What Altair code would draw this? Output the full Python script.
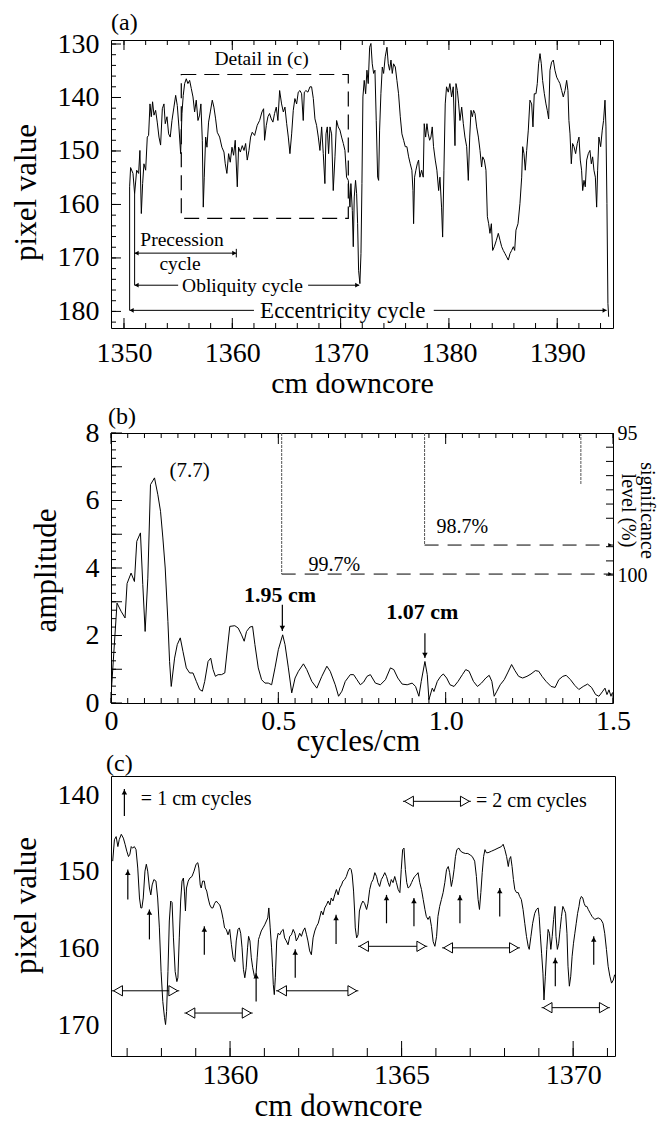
import altair as alt
import pandas as pd

FONT = "Liberation Serif"
W_A, H_A = 502, 288
W_B, H_B = 502, 270
W_C, H_C = 504, 280
SPACING = -6
A_BOTTOM_EXTENT = 81

# ---------------- panel (a): pixel value downcore ----------------
A_DEPTH = [
    1350.52, 1350.61, 1350.83, 1350.98, 1351.17, 1351.35, 1351.47, 1351.60, 1351.72, 1351.84,
    1352.00, 1352.15, 1352.27, 1352.40, 1352.52, 1352.64, 1352.77, 1352.92, 1353.07, 1353.23,
    1353.38, 1353.54, 1353.69, 1353.81, 1353.97, 1354.12, 1354.27, 1354.43, 1354.61, 1354.77,
    1354.92, 1355.07, 1355.23, 1355.35, 1355.47, 1355.60, 1355.75, 1355.90, 1356.06, 1356.21,
    1356.37, 1356.52, 1356.67, 1356.83, 1356.98, 1357.10, 1357.23, 1357.32, 1357.41, 1357.54,
    1357.66, 1357.81, 1357.97, 1358.15, 1358.30, 1358.46, 1358.61, 1358.83, 1359.04, 1359.23,
    1359.35, 1359.50, 1359.66, 1359.81, 1359.97, 1360.12, 1360.27, 1360.46, 1360.58, 1360.74,
    1360.92, 1361.08, 1361.23, 1361.38, 1361.54, 1361.69, 1361.84, 1362.06, 1362.30, 1362.52,
    1362.74, 1362.89, 1362.98, 1363.14, 1363.29, 1363.44, 1363.60, 1363.75, 1363.90, 1364.06,
    1364.21, 1364.37,
    1364.55, 1364.71, 1364.86, 1365.02, 1365.17, 1365.32, 1365.48, 1365.63, 1365.78, 1365.94,
    1366.09, 1366.25, 1366.40, 1366.55, 1366.65, 1366.80, 1366.98, 1367.17, 1367.32, 1367.48,
    1367.63, 1367.78, 1367.94, 1368.09, 1368.25, 1368.40, 1368.55, 1368.65, 1368.77, 1368.89,
    1369.02, 1369.17, 1369.32, 1369.48, 1369.63, 1369.78, 1369.94, 1370.09, 1370.25, 1370.40,
    1370.55, 1370.71, 1370.86, 1370.95, 1371.08, 1371.17, 1371.26, 1371.38, 1371.48, 1371.57,
    1371.66, 1371.78, 1371.88, 1371.97, 1372.06, 1372.18, 1372.31, 1372.43, 1372.55, 1372.68,
    1372.80, 1372.92, 1373.05, 1373.17, 1373.29, 1373.42, 1373.51, 1373.60, 1373.72, 1373.85,
    1373.97, 1374.12, 1374.28, 1374.40, 1374.52, 1374.65, 1374.77, 1374.89, 1375.05, 1375.20,
    1375.35, 1375.51, 1375.66, 1375.82, 1375.97, 1376.12, 1376.28, 1376.43, 1376.58, 1376.68,
    1376.74, 1376.83, 1376.95, 1377.08, 1377.20, 1377.32, 1377.48, 1377.63, 1377.72, 1377.85,
    1377.97, 1378.09, 1378.22, 1378.34, 1378.46, 1378.58, 1378.74, 1378.89, 1379.05, 1379.17,
    1379.32, 1379.42, 1379.54, 1379.66, 1379.78, 1379.94, 1380.09, 1380.25, 1380.40,
    1380.56, 1380.65, 1380.78, 1380.90, 1381.02, 1381.18, 1381.33, 1381.48, 1381.64, 1381.79,
    1381.92, 1382.04, 1382.16, 1382.28, 1382.41, 1382.56, 1382.72, 1382.87, 1383.02, 1383.12,
    1383.27, 1383.42, 1383.55, 1383.67, 1383.79, 1383.92, 1384.04, 1384.19, 1384.38, 1384.56,
    1384.72, 1384.87, 1385.02, 1385.18, 1385.33, 1385.48, 1385.64, 1385.79, 1385.95, 1386.07,
    1386.19, 1386.38, 1386.56, 1386.72, 1386.81, 1386.93, 1387.05, 1387.18, 1387.33, 1387.48,
    1387.64, 1387.76, 1387.88, 1388.04, 1388.16, 1388.28, 1388.41, 1388.53, 1388.65, 1388.81,
    1388.96, 1389.08, 1389.21, 1389.33, 1389.48, 1389.64, 1389.79, 1389.95, 1390.10, 1390.25,
    1390.41, 1390.56, 1390.72, 1390.87, 1390.99, 1391.08, 1391.18, 1391.30, 1391.42, 1391.55,
    1391.70, 1391.85, 1392.01, 1392.13, 1392.25, 1392.35, 1392.47, 1392.59, 1392.72, 1392.87,
    1393.02, 1393.15, 1393.27, 1393.39, 1393.52, 1393.64, 1393.73, 1393.85, 1394.01, 1394.16,
    1394.28, 1394.41, 1394.50, 1394.59, 1394.68, 1394.75,
]
A_VALUE = [
    156.7, 153.1, 154.2, 158.0, 153.6, 154.2, 149.9, 161.7, 156.1, 152.4,
    153.6, 147.4, 147.1, 141.2, 143.6, 140.8, 143.3, 142.4, 144.6, 147.4,
    148.9, 142.1, 141.2, 144.9, 143.6, 146.8, 147.4, 144.3, 141.8, 139.6,
    141.5, 145.5, 150.5, 143.0, 139.6, 137.4, 136.5, 137.4, 136.8, 138.3,
    139.9, 142.7, 140.5, 144.3, 143.3, 141.2, 148.0, 160.5, 154.9, 147.4,
    149.3, 144.6, 142.7, 140.5, 141.8, 144.0, 146.5, 147.4, 149.3, 150.2,
    152.4, 154.2, 150.5, 152.1, 149.3, 150.8, 148.0, 156.7, 149.3, 150.2,
    149.0, 149.9, 148.6, 151.7, 149.9, 147.4, 146.5, 147.1, 145.2, 144.3,
    142.7, 142.1, 148.0, 145.2, 143.6, 143.0, 144.0, 144.6, 143.0, 141.8,
    144.3, 138.7,
    141.2, 142.7, 141.8, 144.9, 147.4, 150.5, 146.8, 142.4, 140.2, 141.2,
    139.0, 138.7, 139.3, 144.3, 139.0, 138.7, 139.0, 138.0, 138.0, 140.2,
    144.0, 145.2, 147.4, 149.9, 145.5, 150.5, 156.1, 146.8, 145.5, 150.5,
    145.5, 146.8, 157.4, 151.1, 144.3, 145.5, 146.1, 147.4, 148.6, 149.9,
    154.9, 155.5, 160.5, 156.1, 161.1, 167.9, 158.6, 155.5, 158.0, 163.6,
    172.3, 174.8, 169.2, 156.1, 139.9, 136.8, 139.3, 134.9, 137.4, 130.6,
    129.9, 133.7, 135.5, 134.9, 144.3, 154.9, 155.5, 146.1, 139.3, 134.3,
    135.5, 132.4, 130.6, 133.7, 134.9, 133.0, 135.5, 133.7, 134.3, 136.8,
    139.3, 143.6, 146.8, 148.0, 149.2, 149.2, 151.1, 152.4, 153.6, 157.4,
    163.6, 154.9, 153.6, 152.4, 151.7, 154.9, 153.6, 154.9, 144.9, 147.4,
    144.9, 146.8, 148.0, 147.4, 145.5, 149.2, 151.7, 153.6, 157.4, 154.9,
    160.5, 166.1, 153.6, 141.2, 138.0, 139.0, 137.4, 139.9, 138.0,
    149.0, 137.4, 138.7, 141.2, 144.3, 141.8, 144.9, 147.4, 149.2, 155.5,
    147.4, 142.4, 143.6, 142.4, 143.0, 145.5, 147.4, 149.9, 153.0, 151.1,
    151.7, 153.6, 162.3, 163.6, 165.4, 163.6, 168.6, 167.9, 166.7, 165.4,
    166.7, 167.9, 168.6, 169.2, 169.8, 170.4, 169.2, 168.6, 167.9, 168.6,
    164.8, 163.6, 159.8, 154.9, 149.2, 150.5, 153.6, 149.9, 146.1, 140.5,
    141.2, 145.5, 139.3, 139.3, 137.4, 133.7, 131.8, 133.7, 136.8, 139.3,
    141.2, 142.4, 144.0, 134.9, 133.4, 133.0, 134.9, 136.2, 136.8, 137.4,
    138.7, 139.9, 138.7, 136.8, 138.7, 144.3, 146.8, 152.4, 148.6, 149.2,
    150.5, 148.6, 147.4, 151.7, 153.6, 157.4, 155.5, 156.7, 151.7, 150.5,
    149.9, 152.4, 151.1, 153.6, 154.9, 160.5, 153.6, 147.4, 149.2, 146.1,
    144.3, 140.5, 145.5, 159.8, 178.5, 181.0,
]
A_X_LABELS = [1350, 1360, 1370, 1380, 1390]
A_Y_LABELS = [130, 140, 150, 160, 170, 180]
A_X_MINOR = list(range(1350, 1395, 2))
A_Y_MINOR = list(range(130, 183, 2))

# dashed "Detail in (c)" box
A_BOX_X = [1355.29]
A_BOX_X2 = [1370.71]
A_BOX_Y = [135.7]
A_BOX_Y2 = [162.6]

# cycle arrows (precession, obliquity, eccentricity)
A_CYCLE_START = [1350.98, 1350.98, 1350.52]
A_CYCLE_END = [1360.37, 1371.72, 1394.56]
A_CYCLE_LEVEL = [169.1, 175.1, 179.8]
# arrow shafts, broken where the labels sit
A_SEG_X1 = [1350.98, 1350.98, 1367.0, 1350.52, 1378.6]
A_SEG_X2 = [1360.37, 1355.0, 1371.72, 1362.0, 1394.56]
A_SEG_Y = [169.1, 175.1, 175.1, 179.8, 179.8]
# vertical extension lines
A_EXT_X = [1350.52, 1350.98, 1360.37]
A_EXT_Y1 = [156.7, 158.0, 168.3]
A_EXT_Y2 = [179.8, 175.1, 169.9]

A_TEXT = ["Detail in (c)", "Precession", "cycle", "Obliquity cycle"]
A_TEXT_X = [1362.7, 1355.36, 1355.17, 1360.94]
A_TEXT_Y = [132.8, 166.6, 171.1, 175.2]
A_BIG_TEXT = ["Eccentricity cycle"]
A_BIG_TEXT_X = [1370.2]
A_BIG_TEXT_Y = [179.9]

# ---------------- panel (b): amplitude spectrum ----------------
B_FREQ = [
    0.002, 0.018, 0.030, 0.042, 0.048, 0.060, 0.070, 0.077, 0.088, 0.095,
    0.102, 0.110, 0.118, 0.130, 0.140, 0.148, 0.155, 0.162, 0.170, 0.175,
    0.180, 0.190, 0.198, 0.207, 0.215, 0.225, 0.235, 0.245, 0.255, 0.265,
    0.273, 0.280, 0.290, 0.298, 0.305, 0.312, 0.320, 0.330, 0.340, 0.348,
    0.355, 0.370, 0.380, 0.390, 0.398, 0.405, 0.415, 0.423, 0.430, 0.440,
    0.450, 0.460, 0.470, 0.480, 0.490, 0.500, 0.513, 0.520, 0.530, 0.540,
    0.550, 0.560, 0.575, 0.585, 0.600, 0.615, 0.630, 0.645, 0.655, 0.670,
    0.680, 0.690, 0.700, 0.715, 0.725, 0.735, 0.745, 0.755, 0.765, 0.775,
    0.790, 0.805, 0.820, 0.835, 0.845, 0.857, 0.870, 0.885, 0.900, 0.910,
    0.920, 0.927, 0.938, 0.945, 0.950, 0.960, 0.965, 0.975, 0.985, 0.993,
    1.003, 1.013, 1.025, 1.037, 1.050, 1.060, 1.070, 1.083, 1.095, 1.107,
    1.120, 1.130, 1.138, 1.145, 1.153, 1.163, 1.175, 1.185, 1.197, 1.207,
    1.218, 1.230, 1.243, 1.255, 1.268, 1.278, 1.288, 1.300, 1.315, 1.327,
    1.338, 1.350, 1.360, 1.373, 1.386, 1.398, 1.411, 1.424, 1.436, 1.448,
    1.458, 1.468, 1.476, 1.482, 1.488, 1.494, 1.498,
]
B_AMP = [
    0.50, 2.96, 2.72, 2.52, 3.54, 3.85, 3.60, 4.79, 5.04, 3.51,
    2.12, 3.70, 6.47, 6.67, 6.17, 5.68, 4.89, 4.00, 2.42, 1.23,
    0.49, 1.33, 1.73, 1.93, 1.53, 1.04, 0.89, 0.89, 0.64, 0.40,
    0.35, 0.64, 1.23, 1.33, 0.99, 0.79, 0.84, 0.84, 0.89, 1.63,
    2.27, 2.29, 2.22, 2.02, 1.83, 2.12, 2.25, 2.27, 1.73, 1.04,
    0.69, 0.59, 0.59, 0.54, 1.04, 1.58, 2.02, 1.73, 1.04, 0.30,
    0.74, 0.94, 1.16, 0.99, 0.64, 0.44, 0.79, 1.09, 0.94, 0.54,
    0.20, 0.35, 0.64, 0.84, 0.84, 0.69, 0.54, 0.62, 0.79, 0.84,
    0.59, 0.54, 0.69, 1.04, 0.99, 0.74, 0.56, 0.54, 0.59, 0.49,
    0.20, 0.64, 1.23, 0.84, 0.10, 0.44, 0.34, 0.64, 0.79, 0.86,
    0.74, 0.54, 0.49, 0.64, 0.84, 0.99, 0.94, 0.64, 0.49, 0.59,
    0.74, 0.82, 0.64, 0.20, 0.35, 0.54, 0.69, 0.89, 1.14, 0.96,
    0.79, 0.74, 0.79, 0.86, 0.96, 0.94, 0.79, 0.64, 0.49, 0.46,
    0.69, 0.79, 0.82, 0.69, 0.52, 0.40, 0.49, 0.56, 0.46, 0.25,
    0.20, 0.33, 0.44, 0.25, 0.39, 0.20, 0.30,
]
B_X_LABELS = [0, 0.5, 1.0, 1.5]
B_Y_LABELS = [0, 2, 4, 6, 8]
B_X_MINOR = [i * 0.05 for i in range(31)]
B_X_MAJOR = [0, 0.5, 1.0, 1.5]
B_Y_MINOR = [i * 0.25 for i in range(33)]
B_Y_MAJOR = [0, 1, 2, 3, 4, 5, 6, 7, 8]

# significance levels
B_SIG_X = [0.510, 0.937]
B_SIG_LEVEL = [3.82, 4.68]
B_SIG_TOP = [8, 8]
B_SIG_END = [1.5, 1.5]
B_SIG_TEXT = ["99.7%", "98.7%"]
B_SIG_TEXT_X = [0.667, 1.05]
B_SIG_TEXT_Y = [4.09, 5.21]
B_SIG3_X = [1.404]
B_SIG3_Y1 = [8.0]
B_SIG3_Y2 = [6.46]
B_SIG_AXIS_LABELS = [95, 100]
B_SIG_TICKS = [95.5, 96, 96.5, 97, 97.5, 98, 99, 99.5, 100]

# peak labels
B_PEAK_TEXT = ["1.95 cm", "1.07 cm"]
B_PEAK_TEXT_X = [0.505, 0.930]
B_PEAK_TEXT_Y = [3.21, 2.70]
B_ARROW_X = [0.512, 0.938]
B_ARROW_TAIL = [2.91, 2.07]
B_ARROW_TIP = [2.13, 1.33]
B_NOTE = ["(7.7)"]
B_NOTE_X = [0.235]
B_NOTE_Y = [6.87]

# ---------------- panel (c): detail ----------------
C_DEPTH = [
    1356.58, 1356.63, 1356.68, 1356.73, 1356.77, 1356.83, 1356.89, 1356.94, 1356.99, 1357.04,
    1357.08, 1357.12, 1357.16, 1357.21, 1357.26, 1357.31, 1357.36, 1357.40, 1357.43, 1357.47,
    1357.52, 1357.56, 1357.60, 1357.65, 1357.69, 1357.73, 1357.78, 1357.84, 1357.89, 1357.94,
    1357.99, 1358.04, 1358.09, 1358.12, 1358.15, 1358.19, 1358.23, 1358.27, 1358.31, 1358.35,
    1358.40, 1358.45, 1358.48, 1358.52, 1358.56, 1358.60, 1358.64, 1358.67, 1358.70, 1358.73,
    1358.78, 1358.83, 1358.89, 1358.95, 1359.01, 1359.06, 1359.09, 1359.13, 1359.16, 1359.20,
    1359.25, 1359.28, 1359.32, 1359.36, 1359.41, 1359.46, 1359.50, 1359.55, 1359.60, 1359.65,
    1359.70, 1359.75, 1359.80, 1359.84, 1359.89, 1359.94, 1359.99, 1360.04, 1360.09, 1360.14,
    1360.18, 1360.23, 1360.27, 1360.31, 1360.35, 1360.39, 1360.43, 1360.47, 1360.51, 1360.54,
    1360.58, 1360.62, 1360.66, 1360.71, 1360.75, 1360.79, 1360.83, 1360.86, 1360.91, 1360.96,
    1361.01, 1361.06, 1361.10, 1361.13, 1361.17, 1361.21, 1361.24, 1361.26, 1361.29, 1361.32,
    1361.36, 1361.40, 1361.45, 1361.50, 1361.55, 1361.59, 1361.64, 1361.69, 1361.74, 1361.79,
    1361.84, 1361.89, 1361.93, 1361.98, 1362.03, 1362.08, 1362.13, 1362.18, 1362.23, 1362.27,
    1362.32, 1362.37, 1362.42, 1362.47, 1362.52, 1362.57, 1362.61, 1362.66, 1362.71, 1362.76,
    1362.81, 1362.86, 1362.91, 1362.95, 1363.00, 1363.05, 1363.10, 1363.15, 1363.20, 1363.25,
    1363.29, 1363.34, 1363.39, 1363.44, 1363.49, 1363.53, 1363.56, 1363.60, 1363.63, 1363.65,
    1363.69, 1363.73, 1363.77, 1363.82, 1363.87, 1363.92,
    1363.98, 1364.02, 1364.07, 1364.12, 1364.17, 1364.22, 1364.27, 1364.31, 1364.36, 1364.41,
    1364.46, 1364.51, 1364.56, 1364.61, 1364.65, 1364.70, 1364.75, 1364.80, 1364.85, 1364.90,
    1364.95, 1364.99, 1365.03, 1365.07, 1365.11, 1365.15, 1365.19, 1365.24, 1365.29, 1365.33,
    1365.38, 1365.43, 1365.48, 1365.53, 1365.58, 1365.63, 1365.68, 1365.72, 1365.77, 1365.82,
    1365.87, 1365.92, 1365.97, 1366.02, 1366.06, 1366.11, 1366.16, 1366.21, 1366.26, 1366.31,
    1366.36, 1366.40, 1366.45, 1366.49, 1366.53, 1366.57, 1366.61, 1366.67, 1366.72, 1366.79,
    1366.86, 1366.93, 1367.00, 1367.06, 1367.13, 1367.18, 1367.23, 1367.27, 1367.31, 1367.35,
    1367.39, 1367.43, 1367.47, 1367.52, 1367.62, 1367.72, 1367.81, 1367.91, 1367.96, 1368.01,
    1368.06, 1368.11, 1368.14, 1368.18, 1368.22, 1368.26, 1368.30, 1368.35, 1368.40, 1368.44,
    1368.49, 1368.54, 1368.59, 1368.64, 1368.69, 1368.72, 1368.77, 1368.82, 1368.88, 1368.93,
    1368.98, 1369.01, 1369.04, 1369.08, 1369.12, 1369.15, 1369.19, 1369.23, 1369.27, 1369.31,
    1369.35, 1369.39, 1369.43, 1369.47, 1369.50, 1369.54, 1369.58, 1369.62, 1369.66, 1369.70,
    1369.74, 1369.78, 1369.82, 1369.85, 1369.89, 1369.93, 1369.97, 1370.01, 1370.05, 1370.09,
    1370.13, 1370.17, 1370.20, 1370.24, 1370.28, 1370.32, 1370.36, 1370.40, 1370.44, 1370.50,
    1370.55, 1370.63, 1370.73, 1370.81, 1370.87, 1370.92, 1370.97, 1371.02, 1371.07, 1371.12,
    1371.17, 1371.21,
]
C_VALUE = [
    148.6, 145.8, 145.4, 146.7, 145.8, 145.1, 145.6, 146.4, 147.3, 148.0,
    147.7, 146.7, 146.9, 146.7, 147.1, 149.5, 153.4, 154.7, 154.7, 153.4,
    149.9, 149.0, 149.9, 152.1, 153.0, 151.7, 151.0, 151.2, 153.4, 157.3,
    163.0, 166.9, 169.0, 169.9, 168.2, 163.0, 156.4, 153.8, 154.0, 158.6,
    163.0, 164.3, 163.8, 158.6, 153.8, 151.2, 150.8, 152.5, 155.1, 152.1,
    151.2, 150.8, 150.6, 149.9, 149.0, 148.8, 149.5, 151.7, 152.1, 151.2,
    151.2, 152.1, 152.5, 153.4, 154.3, 154.7, 154.7, 154.1, 153.8, 154.1,
    154.3, 155.1, 156.2, 157.3, 157.5, 158.2, 157.5, 159.5, 161.2, 161.7,
    159.0, 157.5, 157.3, 158.0, 159.9, 162.7, 163.8, 162.5, 159.9, 158.4,
    159.0, 161.2, 162.5, 163.6, 163.8, 161.2, 158.8, 158.4, 157.7, 157.3,
    156.9, 156.4, 156.0, 154.7, 157.3, 159.9, 162.5, 164.7, 166.0, 163.8,
    159.0, 158.0, 158.2, 157.7, 157.5, 158.6, 159.0, 159.5, 158.4, 158.2,
    157.5, 158.0, 159.0, 158.6, 158.0, 158.4, 157.7, 157.3, 158.2, 159.0,
    160.3, 160.8, 158.6, 157.7, 157.1, 156.7, 156.0, 155.1, 155.6, 154.7,
    154.3, 153.8, 154.3, 153.4, 153.8, 153.0, 152.3, 153.0, 152.1, 151.7,
    151.2, 151.0, 150.6, 149.9, 149.5, 149.7, 150.4, 152.5, 155.1, 157.3,
    158.6, 158.2, 155.1, 154.3, 153.8, 154.1,
    154.9, 154.1, 152.3, 151.4, 151.0, 150.1, 150.6, 151.4, 151.9, 151.0,
    150.6, 150.1, 150.6, 151.4, 151.9, 151.0, 151.4, 150.6, 151.4, 152.3,
    152.7, 149.7, 147.1, 146.9, 149.7, 151.4, 152.1, 151.9, 151.4, 151.0,
    150.6, 150.4, 150.1, 151.4, 152.3, 153.6, 154.9, 155.8, 156.2, 155.8,
    157.1, 159.1, 159.7, 158.4, 155.8, 154.5, 153.6, 152.7, 151.4, 149.7,
    149.3, 150.1, 151.9, 151.0, 149.7, 148.0, 147.1, 146.9, 147.3, 147.5,
    147.6, 147.6, 147.8, 148.0, 148.6, 150.6, 153.6, 154.9, 152.7, 150.1,
    148.0, 147.1, 147.5, 147.5, 147.3, 147.1, 146.9, 146.7, 146.4, 147.1,
    148.0, 149.3, 148.4, 148.0, 149.3, 151.0, 152.3, 152.7, 152.7, 153.2,
    153.6, 154.9, 156.7, 158.4, 159.7, 160.1, 158.4, 156.7, 155.4, 154.9,
    154.7, 155.8, 158.0, 160.6, 163.2, 166.7, 163.6, 160.1, 157.5, 158.0,
    160.1, 158.4, 156.2, 154.5, 158.4, 160.1, 159.3, 157.5, 155.8, 154.5,
    154.9, 155.4, 158.0, 162.3, 164.9, 163.6, 161.0, 159.3, 158.0, 156.7,
    155.4, 154.5, 153.6, 153.2, 153.4, 154.1, 154.5, 154.5, 154.9, 155.4,
    155.8, 156.2, 156.0, 156.2, 156.7, 158.0, 160.1, 162.3, 163.6, 164.5,
    164.1, 163.4,
]
C_X_LABELS = [1360, 1365, 1370]
C_Y_LABELS = [140, 150, 160, 170]
C_X_MINOR = list(range(1357, 1372))
C_X_MAJOR = [1360, 1365, 1370]

# 1 cm cycle arrows
C_UP_X = [1357.02, 1357.65, 1359.25, 1360.76, 1361.90, 1363.09,
          1364.56, 1365.36, 1366.70, 1367.86, 1369.48, 1370.60]
C_UP_TAIL = [153.6, 158.8, 160.8, 166.9, 163.8, 159.4,
             156.7, 157.1, 156.7, 155.8, 164.9, 162.1]
C_UP_HEAD = [149.7, 154.9, 157.1, 163.2, 160.1, 155.6,
             153.0, 153.4, 153.0, 152.1, 161.2, 158.4]
# 2 cm cycle double arrows
C_DA_X1 = [1356.56, 1358.67, 1361.34, 1363.73, 1366.18, 1369.08]
C_DA_X2 = [1358.52, 1360.66, 1363.74, 1365.75, 1368.45, 1371.07]
C_DA_Y = [165.5, 168.4, 165.5, 159.7, 159.9, 167.7]
# legend
C_LEG_UP_X = [1356.92]
C_LEG_UP_TAIL = [142.7]
C_LEG_UP_HEAD = [139.2]
C_LEG_DA_X1 = [1365.04]
C_LEG_DA_X2 = [1367.02]
C_LEG_DA_Y = [140.8]
C_LEG_TEXT = ["= 1 cm cycles", "= 2 cm cycles"]
C_LEG_TEXT_X = [1357.40, 1367.17]
C_LEG_TEXT_Y = [140.5, 140.8]


def df(**cols):
    return pd.DataFrame(cols)


# ================= panel (a) =================
SA_X = alt.Scale(domain=[1348.8, 1395.15], nice=False, zero=False)
SA_Y = alt.Scale(domain=[129.25, 183.1], nice=False, zero=False, reverse=True)
AXA_X = alt.Axis(values=A_X_LABELS, format="d", labelFontSize=28, labelPadding=11,
                 labelFlush=False, title="cm downcore", titleFontSize=30,
                 titleX=241, titleY=55, titleBaseline="middle")
AXA_Y = alt.Axis(values=A_Y_LABELS, format="d", labelFontSize=28, labelPadding=12,
                 title="pixel value", titleFontSize=31, titleX=-85, titleY=152,
                 titleBaseline="middle")


def XA():
    return alt.X("depth:Q", scale=SA_X, axis=AXA_X)


def YA():
    return alt.Y("value:Q", scale=SA_Y, axis=AXA_Y)


a_line = alt.Chart(df(depth=A_DEPTH, value=A_VALUE)).mark_line(
    color="black", strokeWidth=1).encode(x=XA(), y=YA())
a_box = alt.Chart(df(depth=A_BOX_X, depth2=A_BOX_X2, value=A_BOX_Y, value2=A_BOX_Y2)).mark_rect(
    fillOpacity=0, stroke="black", strokeWidth=1.2, strokeDash=[15, 8]).encode(
    x=XA(), x2=alt.X2("depth2"), y=YA(), y2=alt.Y2("value2"))
a_seg = alt.Chart(df(depth=A_SEG_X1, depth2=A_SEG_X2, value=A_SEG_Y)).mark_rule(
    color="black", strokeWidth=1).encode(x=XA(), x2=alt.X2("depth2"), y=YA())
a_ext = alt.Chart(df(depth=A_EXT_X, value=A_EXT_Y1, value2=A_EXT_Y2)).mark_rule(
    color="black", strokeWidth=1).encode(x=XA(), y=YA(), y2=alt.Y2("value2"))
a_head_l = alt.Chart(df(depth=A_CYCLE_START, value=A_CYCLE_LEVEL)).mark_point(
    shape="triangle-left", filled=True, color="black", size=22, opacity=1, xOffset=2).encode(x=XA(), y=YA())
a_head_r = alt.Chart(df(depth=A_CYCLE_END, value=A_CYCLE_LEVEL)).mark_point(
    shape="triangle-right", filled=True, color="black", size=22, opacity=1, xOffset=-2).encode(x=XA(), y=YA())
a_txt = alt.Chart(df(depth=A_TEXT_X, value=A_TEXT_Y, label=A_TEXT)).mark_text(
    font=FONT, fontSize=19.5, color="black").encode(x=XA(), y=YA(), text="label:N")
a_txt_big = alt.Chart(df(depth=A_BIG_TEXT_X, value=A_BIG_TEXT_Y, label=A_BIG_TEXT)).mark_text(
    font=FONT, fontSize=23, color="black").encode(x=XA(), y=YA(), text="label:N")


def xticks(values, xenc, y0, y1):
    return alt.Chart(df(depth=values)).mark_rule(color="black", strokeWidth=1).encode(
        x=xenc, y=alt.value(y0), y2=alt.value(y1))


a_ticks = [
    xticks(A_X_MINOR, XA(), H_A, H_A - 5),
    xticks(A_X_LABELS, XA(), H_A, H_A - 10),
    xticks(A_X_MINOR, XA(), 0, 5),
    xticks(A_X_LABELS, XA(), 0, 10),
    alt.Chart(df(value=A_Y_MINOR)).mark_rule(color="black", strokeWidth=1).encode(
        y=YA(), x=alt.value(0), x2=alt.value(5)),
    alt.Chart(df(value=A_Y_LABELS)).mark_rule(color="black", strokeWidth=1).encode(
        y=YA(), x=alt.value(0), x2=alt.value(10)),
]
a_pad = alt.Chart(df(depth=[1350])).mark_rule(color="white").encode(
    x=alt.value(0), x2=alt.value(2), y=alt.value(H_A + A_BOTTOM_EXTENT))

panel_a = alt.layer(a_line, a_box, a_seg, a_ext, a_head_l, a_head_r, a_txt, a_txt_big,
                    *a_ticks, a_pad).properties(
    width=W_A, height=H_A,
    title=alt.TitleParams("(a)", anchor="start", frame="group", offset=-5, fontSize=24,
                          font=FONT, fontWeight="normal", color="black"))

# ================= panel (b) =================
SB_X = alt.Scale(domain=[0, 1.5], nice=False, zero=False)
SB_Y = alt.Scale(domain=[0, 8], nice=False, zero=False)
SB_SIG = alt.Scale(domain=[95, 104.5], nice=False, zero=False, reverse=True)
AXB_X = alt.Axis(values=B_X_LABELS, labelExpr="datum.value == 0 ? '0' : format(datum.value, '.1f')",
                 labelFontSize=28, labelPadding=4, labelFlush=False, title="cycles/cm",
                 titleFontSize=31, titleX=247, titleY=38, titleBaseline="middle")
AXB_Y = alt.Axis(values=B_Y_LABELS, labelFontSize=28, labelPadding=12, title="amplitude",
                 titleFontSize=31, titleX=-65, titleY=137, titleBaseline="middle")
AXB_SIG = alt.Axis(orient="right", values=B_SIG_AXIS_LABELS, labelFontSize=20, labelPadding=4,
                   title=["significance", "level (%)"], titleFontSize=20, titleAngle=90,
                   titleX=33, titleY=77, titleBaseline="middle", titleLineHeight=19)


def XB(f="freq"):
    return alt.X(f + ":Q", scale=SB_X, axis=AXB_X)


def YB(f="amp"):
    return alt.Y(f + ":Q", scale=SB_Y, axis=AXB_Y)


b_line = alt.Chart(df(freq=B_FREQ, amp=B_AMP)).mark_line(color="black", strokeWidth=1).encode(
    x=XB(), y=YB())
b_sig_v = alt.Chart(df(freq=B_SIG_X, amp=B_SIG_TOP, amp2=B_SIG_LEVEL)).mark_rule(
    color="#555555", strokeWidth=1, strokeDash=[3, 1]).encode(x=XB(), y=YB(), y2=alt.Y2("amp2"))
b_sig3 = alt.Chart(df(freq=B_SIG3_X, amp=B_SIG3_Y1, amp2=B_SIG3_Y2)).mark_rule(
    color="#555555", strokeWidth=1, strokeDash=[3, 1]).encode(x=XB(), y=YB(), y2=alt.Y2("amp2"))
b_sig_h = alt.Chart(df(freq=B_SIG_X, freq2=B_SIG_END, amp=B_SIG_LEVEL)).mark_rule(
    color="black", strokeWidth=1, strokeDash=[14, 9]).encode(x=XB(), x2=alt.X2("freq2"), y=YB())
b_sig_head = alt.Chart(df(freq=B_SIG_END, amp=B_SIG_LEVEL)).mark_point(
    shape="triangle-right", filled=True, color="black", size=16, opacity=1, xOffset=-3).encode(
    x=XB(), y=YB())
b_sig_txt = alt.Chart(df(freq=B_SIG_TEXT_X, amp=B_SIG_TEXT_Y, label=B_SIG_TEXT)).mark_text(
    font=FONT, fontSize=20, color="black").encode(x=XB(), y=YB(), text="label:N")
b_arrow = alt.Chart(df(freq=B_ARROW_X, amp=B_ARROW_TAIL, amp2=B_ARROW_TIP)).mark_rule(
    color="black", strokeWidth=1.2).encode(x=XB(), y=YB(), y2=alt.Y2("amp2"))
b_arrow_head = alt.Chart(df(freq=B_ARROW_X, amp=B_ARROW_TIP)).mark_point(
    shape="triangle-down", filled=True, color="black", size=30, opacity=1, yOffset=-3).encode(
    x=XB(), y=YB())
b_peak_txt = alt.Chart(df(freq=B_PEAK_TEXT_X, amp=B_PEAK_TEXT_Y, label=B_PEAK_TEXT)).mark_text(
    font=FONT, fontSize=22, fontWeight="bold", color="black").encode(x=XB(), y=YB(), text="label:N")
b_note = alt.Chart(df(freq=B_NOTE_X, amp=B_NOTE_Y, label=B_NOTE)).mark_text(
    font=FONT, fontSize=21, color="black").encode(x=XB(), y=YB(), text="label:N")


def bxticks(values, y0, y1):
    return alt.Chart(df(freq=values)).mark_rule(color="black", strokeWidth=1).encode(
        x=XB(), y=alt.value(y0), y2=alt.value(y1))


b_ticks = [
    bxticks(B_X_MINOR, H_B, H_B - 5),
    bxticks(B_X_MAJOR, H_B, H_B - 11),
    bxticks(B_X_MINOR, 0, 5),
    bxticks(B_X_MAJOR, 0, 11),
    alt.Chart(df(amp=B_Y_MINOR)).mark_rule(color="black", strokeWidth=1).encode(
        y=YB(), x=alt.value(0), x2=alt.value(5)),
    alt.Chart(df(amp=B_Y_MAJOR)).mark_rule(color="black", strokeWidth=1).encode(
        y=YB(), x=alt.value(0), x2=alt.value(11)),
]
b_inner = alt.layer(b_line, b_sig_v, b_sig3, b_sig_h, b_sig_head, b_sig_txt, b_arrow,
                    b_arrow_head, b_peak_txt, b_note, *b_ticks)
b_sig_axis = alt.Chart(df(sig=B_SIG_TICKS)).mark_rule(color="black", strokeWidth=1).encode(
    y=alt.Y("sig:Q", scale=SB_SIG, axis=AXB_SIG), x=alt.value(W_B - 7), x2=alt.value(W_B))
panel_b = alt.layer(b_inner, b_sig_axis).resolve_scale(y="independent").properties(
    width=W_B, height=H_B,
    title=alt.TitleParams("(b)", anchor="start", frame="group", offset=-10, fontSize=24,
                          font=FONT, fontWeight="normal", color="black", dx=-3))

# ================= panel (c) =================
SC_X = alt.Scale(domain=[1356.53, 1371.22], nice=False, zero=False)
SC_Y = alt.Scale(domain=[137.5, 174.0], nice=False, zero=False, reverse=True)
AXC_X = alt.Axis(values=C_X_LABELS, format="d", labelFontSize=28, labelPadding=5,
                 labelFlush=False, title="cm downcore", titleFontSize=31,
                 titleX=227, titleY=50, titleBaseline="middle")
AXC_Y = alt.Axis(values=C_Y_LABELS, format="d", labelFontSize=28, labelPadding=12,
                 title="pixel value", titleFontSize=31, titleX=-85, titleY=129,
                 titleBaseline="middle")


def XC():
    return alt.X("depth:Q", scale=SC_X, axis=AXC_X)


def YC():
    return alt.Y("value:Q", scale=SC_Y, axis=AXC_Y)


c_line = alt.Chart(df(depth=C_DEPTH, value=C_VALUE)).mark_line(color="black", strokeWidth=1).encode(
    x=XC(), y=YC())


def up_arrows(xs, tails, heads):
    shaft = alt.Chart(df(depth=xs, value=tails, value2=heads)).mark_rule(
        color="black", strokeWidth=1.2).encode(x=XC(), y=YC(), y2=alt.Y2("value2"))
    head = alt.Chart(df(depth=xs, value=heads)).mark_point(
        shape="triangle-up", filled=True, color="black", size=30, opacity=1, yOffset=3).encode(
        x=XC(), y=YC())
    return [shaft, head]


def double_arrows(x1, x2, ys):
    shaft = alt.Chart(df(depth=x1, depth2=x2, value=ys)).mark_rule(
        color="black", strokeWidth=1).encode(x=XC(), x2=alt.X2("depth2"), y=YC())
    left = alt.Chart(df(depth=x1, value=ys)).mark_point(
        shape="triangle-left", filled=True, fill="white", stroke="black", strokeWidth=1,
        size=105, opacity=1, xOffset=6).encode(x=XC(), y=YC())
    right = alt.Chart(df(depth=x2, value=ys)).mark_point(
        shape="triangle-right", filled=True, fill="white", stroke="black", strokeWidth=1,
        size=105, opacity=1, xOffset=-6).encode(x=XC(), y=YC())
    return [shaft, left, right]


c_leg_txt = alt.Chart(df(depth=C_LEG_TEXT_X, value=C_LEG_TEXT_Y, label=C_LEG_TEXT)).mark_text(
    font=FONT, fontSize=20, color="black", align="left").encode(x=XC(), y=YC(), text="label:N")


def cxticks(values, length):
    return alt.Chart(df(depth=values)).mark_rule(color="black", strokeWidth=1).encode(
        x=XC(), y=alt.value(H_C), y2=alt.value(H_C - length))


panel_c = alt.layer(
    c_line,
    *up_arrows(C_UP_X, C_UP_TAIL, C_UP_HEAD),
    *double_arrows(C_DA_X1, C_DA_X2, C_DA_Y),
    *up_arrows(C_LEG_UP_X, C_LEG_UP_TAIL, C_LEG_UP_HEAD),
    *double_arrows(C_LEG_DA_X1, C_LEG_DA_X2, C_LEG_DA_Y),
    c_leg_txt,
    cxticks(C_X_MINOR, 8),
    cxticks(C_X_MAJOR, 15),
).properties(
    width=W_C, height=H_C,
    title=alt.TitleParams("(c)", anchor="start", frame="group", offset=0, fontSize=24,
                          font=FONT, fontWeight="normal", color="black", dx=-5))

chart = alt.vconcat(panel_a, panel_b, panel_c, spacing=SPACING).properties(
    padding={"left": 9, "top": 10, "right": 0, "bottom": 0}
).configure_view(stroke="black", strokeWidth=1).configure_axis(
    labelFont=FONT, titleFont=FONT, labelColor="black", titleColor="black",
    titleFontWeight="normal", grid=False, domain=False, ticks=False, labelOverlap=False
).configure_title(font=FONT, color="black")

chart.save("out.html", embed_options={"renderer": "svg", "actions": False})
